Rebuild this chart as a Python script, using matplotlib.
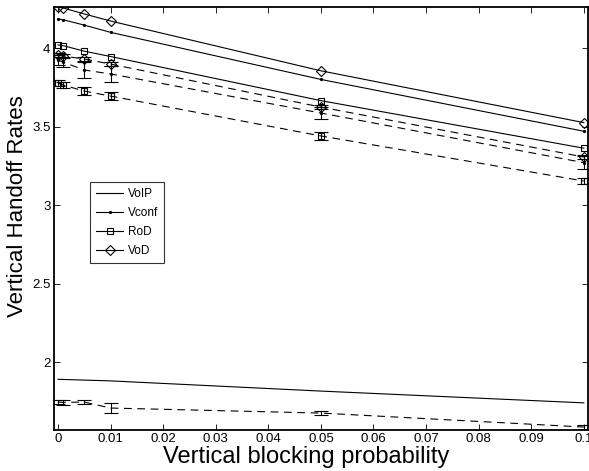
import matplotlib as mpl
import matplotlib.pyplot as plt

# data: start
blocking = [0, 0.001, 0.005, 0.01, 0.05, 0.1]

# analytical curves (solid)
voip_ana = [1.890, 1.889, 1.885, 1.880, 1.815, 1.740]
vconf_ana = [4.185, 4.180, 4.146, 4.100, 3.800, 3.470]
rod_ana = [4.020, 4.015, 3.980, 3.946, 3.665, 3.362]
vod_ana = [4.260, 4.255, 4.217, 4.172, 3.855, 3.525]

# simulation curves (dashed, with error bars)
voip_sim = [1.745, 1.743, 1.745, 1.707, 1.675, 1.586]
voip_err = [0.015, 0.015, 0.015, 0.03, 0.01, 0.01]
vconf_sim = [3.925, 3.910, 3.860, 3.835, 3.586, 3.270]
vconf_err = [0.03, 0.03, 0.05, 0.05, 0.04, 0.04]
rod_sim = [3.777, 3.764, 3.726, 3.694, 3.440, 3.153]
rod_err = [0.02, 0.02, 0.025, 0.025, 0.025, 0.02]
vod_sim = [3.955, 3.949, 3.930, 3.898, 3.624, 3.306]
vod_err = [0.015, 0.015, 0.015, 0.015, 0.015, 0.015]

labels = ["VoIP", "Vconf", "RoD", "VoD"]
# data: end

mpl.rcParams["font.family"] = ["Liberation Sans", "DejaVu Sans"]
mpl.rcParams["xtick.direction"] = "in"
mpl.rcParams["ytick.direction"] = "in"

fig = plt.figure(figsize=(5.89, 4.71), dpi=100)
ax = fig.add_axes([0.0917, 0.087, 0.9063, 0.898])

DASH = (0, (7, 5))
LW = 0.8
styles = [
    dict(marker=None),
    dict(marker=".", markersize=3),
    dict(marker="s", markersize=5, markerfacecolor="none"),
    dict(marker="D", markersize=5, markerfacecolor="none"),
]

ana = [voip_ana, vconf_ana, rod_ana, vod_ana]
sim = [voip_sim, vconf_sim, rod_sim, vod_sim]
err = [voip_err, vconf_err, rod_err, vod_err]

handles = []
for y_a, y_s, e, st in zip(ana, sim, err, styles):
    (h,) = ax.plot(blocking, y_a, color="black", linewidth=LW, markeredgewidth=0.8, **st)
    handles.append(h)
    ax.errorbar(
        blocking, y_s, yerr=e, color="black", linewidth=LW, linestyle=DASH,
        elinewidth=0.8, capsize=5, capthick=0.8, markeredgewidth=0.8, **st
    )

ax.set_xlim(-0.00076, 0.10076)
ax.set_ylim(1.567, 4.261)
ax.set_xticks([i / 100 for i in range(11)])
ax.set_xticklabels(["0", "0.01", "0.02", "0.03", "0.04", "0.05", "0.06", "0.07", "0.08", "0.09", "0.1"])
ax.set_yticks([2, 2.5, 3, 3.5, 4])
ax.set_yticklabels(["2", "2.5", "3", "3.5", "4"])
ax.tick_params(top=True, right=True, labelsize=9.5, length=4, width=0.6, pad=2.5)
for s in ax.spines.values():
    s.set_linewidth(1.3)

ax.set_xlabel("Vertical blocking probability", fontsize=17)
ax.set_ylabel("Vertical Handoff Rates", fontsize=16)
ax.xaxis.set_label_coords(0.472, -0.038, transform=ax.transAxes)
ax.xaxis.label.set_va("top")
ax.yaxis.set_label_coords(-0.069, 0.53, transform=ax.transAxes)
ax.yaxis.label.set_va("center")

leg = ax.legend(
    handles, labels, loc="upper left", bbox_to_anchor=(0.068, 0.586), fontsize=8.5,
    frameon=True, fancybox=False, edgecolor="black", handlelength=2.3,
    borderaxespad=0, labelspacing=0.6, handletextpad=0.4, borderpad=0.5,
)
leg.get_frame().set_linewidth(0.8)

fig.savefig("out.png", dpi=100)
